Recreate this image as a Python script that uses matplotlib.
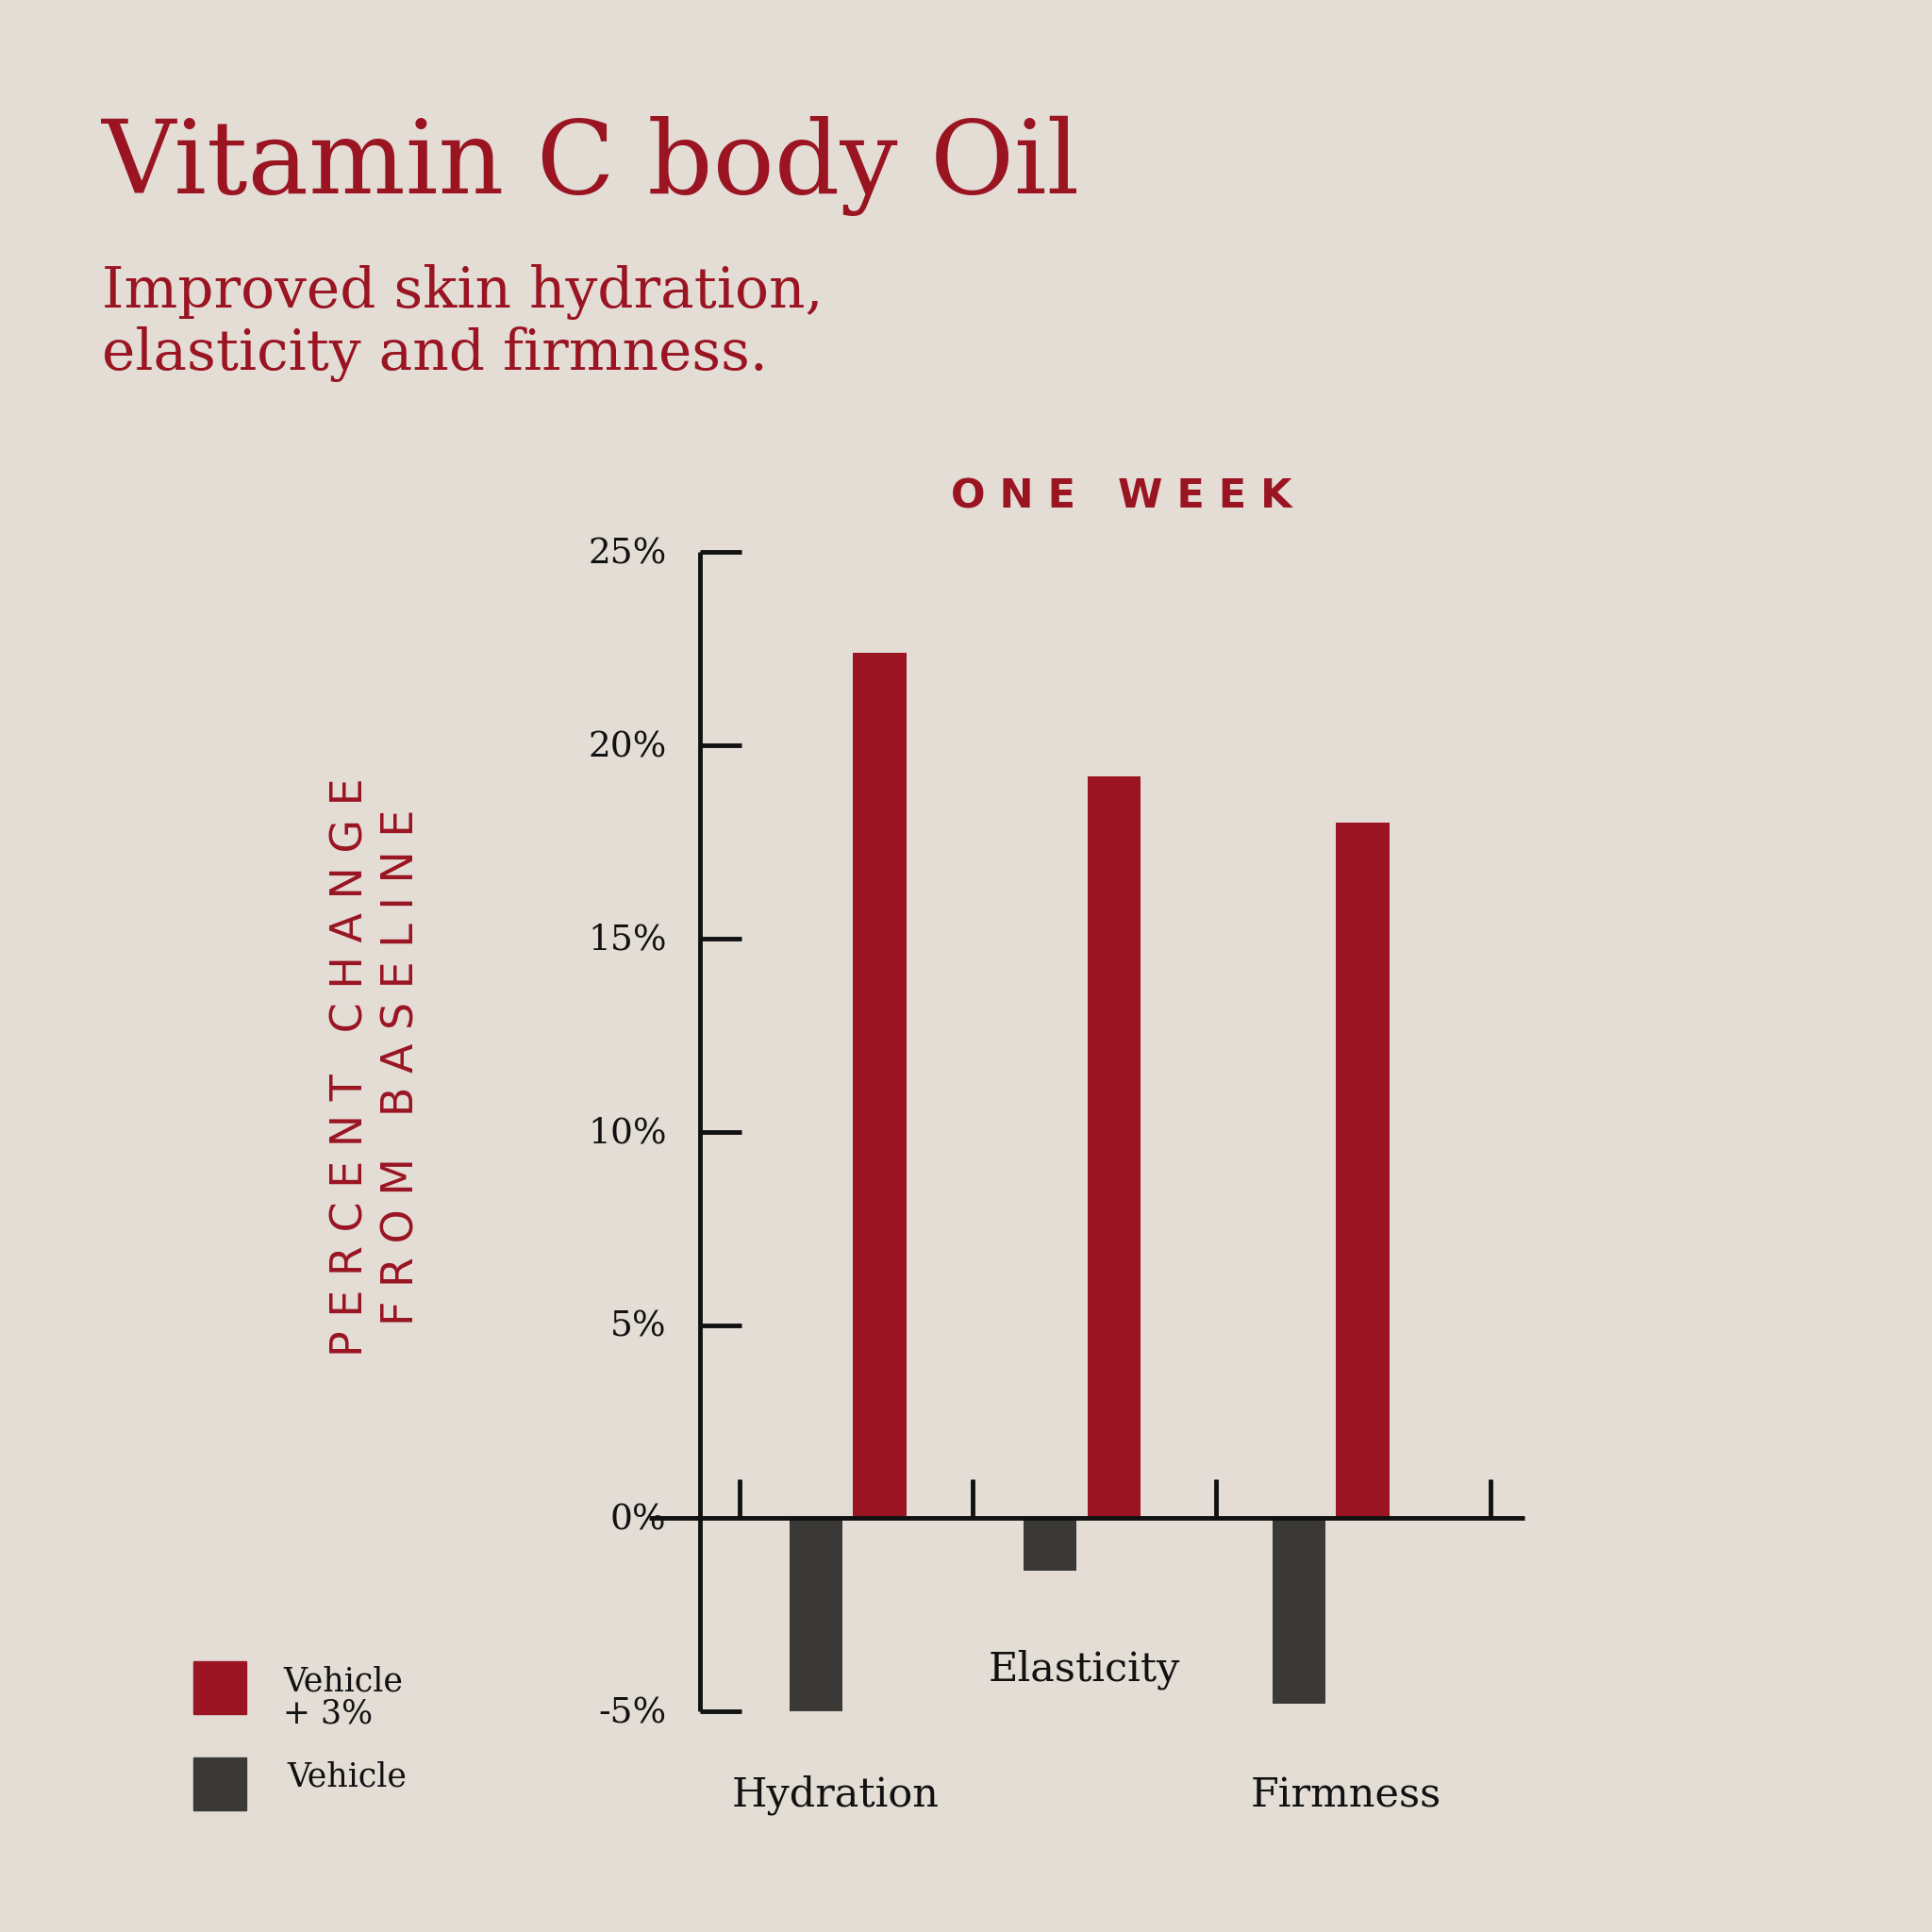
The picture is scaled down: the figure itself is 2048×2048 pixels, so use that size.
import matplotlib
matplotlib.use("Agg")
import matplotlib.pyplot as plt
from matplotlib.patches import Rectangle

categories = ["Hydration", "Elasticity", "Firmness"]
treated = [22.4, 19.2, 18.0]
vehicle = [-5.0, -1.35, -4.8]
yticks = [-5, 0, 5, 10, 15, 20, 25]
ytick_labels = ["-5%", "0%", "5%", "10%", "15%", "20%", "25%"]

BG = "#e3ddd6"; RED = "#9a1422"; GREY = "#3a3936"; INK = "#111111"
S = 1568.0
fig = plt.figure(figsize=(20.48, 20.48), dpi=100, facecolor=BG)
def fx(px): return px / S
def fy(py): return 1 - py / S

x0, x1 = 527, 1237
ax = fig.add_axes([fx(x0), fy(1389), fx(x1) - fx(x0), fy(448) - fy(1389)])
ax.set_facecolor("none")
ax.set_xlim(x0, x1); ax.set_ylim(-5, 25)
ax.axis("off")

centers = [688, 878, 1080]
w = 43
for c, t, v in zip(centers, treated, vehicle):
    ax.bar(c + 26, t, width=w, color=RED, zorder=2)
    ax.bar(c - 26, v, width=w, color=GREY, zorder=2)

lw = 3.5
ax.plot([568, 568], [-5, 25], color=INK, lw=lw, clip_on=False, solid_capstyle="butt")
ax.plot([x0, x1], [0, 0], color=INK, lw=lw, clip_on=False, solid_capstyle="butt")
serif = "DejaVu Serif"
for yv, lab in zip(yticks, ytick_labels):
    if yv != 0:
        ax.plot([568, 602], [yv, yv], color=INK, lw=lw, clip_on=False, solid_capstyle="butt")
    ax.text(541, yv - 0.05, lab, ha="right", va="center", fontsize=27,
            family=serif, color=INK)
for xt in [600, 789, 987, 1210]:
    ax.plot([xt, xt], [0, 1.0], color=INK, lw=lw, clip_on=False, solid_capstyle="butt")

fig.text(fx(83), fy(135), "Vitamin C body Oil", fontsize=78, family=serif,
         color=RED, va="center")
fig.text(fx(83), fy(262), "Improved skin hydration,\nelasticity and firmness.", fontsize=43,
         family=serif, color=RED, va="center", linespacing=1.15)
fig.text(fx(910), fy(403), "O N E   W E E K", fontsize=31, color=RED, ha="center",
         va="center", family="DejaVu Sans", fontweight="bold")
fig.text(fx(285), fy(866), "P E R C E N T   C H A N G E", fontsize=33, color=RED, rotation=90,
         ha="center", va="center", family="DejaVu Sans")
fig.text(fx(326), fy(866), "F R O M   B A S E L I N E", fontsize=33, color=RED, rotation=90,
         ha="center", va="center", family="DejaVu Sans")

for lab, px, py in [("Hydration", 678, 1457), ("Elasticity", 880, 1355), ("Firmness", 1092, 1457)]:
    fig.text(fx(px), fy(py), lab, fontsize=31, family=serif, color=INK,
             ha="center", va="center")

fig.patches.append(Rectangle((fx(157), fy(1391)), fx(43), fx(43), transform=fig.transFigure,
                             color=RED))
fig.patches.append(Rectangle((fx(157), fy(1469)), fx(43), fx(43), transform=fig.transFigure,
                             color=GREY))
fig.text(fx(230), fy(1378), "Vehicle\n+ 3%", fontsize=25, family=serif, color=INK,
         va="center", linespacing=1.0)
fig.text(fx(233), fy(1442), "Vehicle", fontsize=25, family=serif, color=INK,
         va="center")

fig.savefig("out.png", dpi=100, facecolor=BG)
